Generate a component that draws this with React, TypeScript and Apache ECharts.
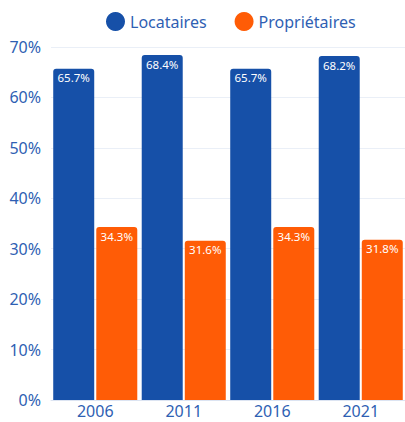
import React, { useEffect, useRef } from "react";
import * as echarts from "echarts";

const years = ["2006", "2011", "2016", "2021"];
const locataires = [65.7, 68.4, 65.7, 68.2];
const proprietaires = [34.3, 31.6, 34.3, 31.8];

export default function App() {
  const ref = useRef<HTMLDivElement>(null);
  useEffect(() => {
    const chart = echarts.init(ref.current!, null, { renderer: "svg" });
    const font = "'Noto Sans', sans-serif";
    chart.setOption({
      animation: false,
      textStyle: { fontFamily: font },
      legend: {
        top: 7,
        left: 101,
        icon: "circle",
        itemWidth: 19,
        itemHeight: 19,
        itemGap: 28,
        textStyle: { color: "#2f5fb3", fontSize: 16, fontFamily: font },
        data: ["Locataires", "Propriétaires"],
      },
      grid: { left: 51, top: 47, bottom: 22, width: 360 },
      xAxis: {
        type: "category",
        data: years,
        axisLine: { lineStyle: { color: "#dce4f2" } },
        axisTick: { show: false },
        axisLabel: { color: "#2f5fb3", fontSize: 16, margin: 3, fontFamily: font },
      },
      yAxis: {
        type: "value",
        min: 0,
        max: 70,
        interval: 10,
        axisLabel: { formatter: "{value}%", color: "#2f5fb3", fontSize: 16, margin: 10, fontFamily: font },
        splitLine: { lineStyle: { color: "#eaeff7" } },
        axisLine: { show: false },
      },
      series: [
        {
          name: "Locataires",
          type: "bar",
          data: locataires,
          barWidth: 41,
          barGap: "5%",
          itemStyle: { color: "#1650a8", borderRadius: [3, 3, 0, 0] },
          label: {
            show: true,
            position: "insideTop",
            distance: 3,
            formatter: "{c}%",
            color: "#ffffff",
            fontSize: 11.5,
            fontFamily: font,
          },
        },
        {
          name: "Propriétaires",
          type: "bar",
          data: proprietaires,
          barWidth: 41,
          itemStyle: { color: "#ff5c06", borderRadius: [3, 3, 0, 0] },
          label: {
            show: true,
            position: "insideTop",
            distance: 3,
            formatter: "{c}%",
            color: "#ffffff",
            fontSize: 11.5,
            fontFamily: font,
          },
        },
      ],
    });
    return () => chart.dispose();
  }, []);
  return <div ref={ref} style={{ width: 405, height: 422, position: "absolute", left: 0, top: 0 }} />;
}
